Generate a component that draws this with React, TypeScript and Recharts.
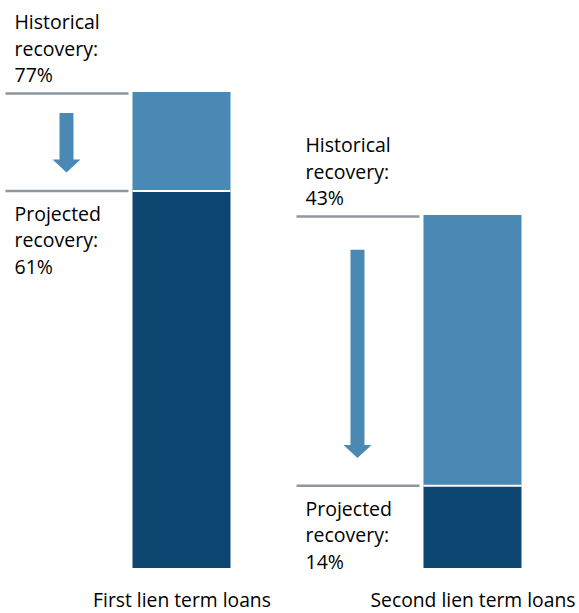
import { BarChart, Bar, XAxis, YAxis } from 'recharts';

// Note: the original bars are schematic, not drawn to one scale,
// so the bar heights below are read off the picture; the labels keep the stated rates.
const categories = ['First lien term loans', 'Second lien term loans'];
const projectedHeight = [61, 13.3];
const declineHeight = [16, 43.8];
const historicalLabel = ['77%', '43%'];
const projectedLabel = ['61%', '14%'];

const LIGHT = '#4a89b4';
const DARK = '#0d4670';
const GREY = '#8e979e';
const FONT = '"Open Sans", sans-serif';

const data = categories.map((name, i) => ({
  pos: i,
  name,
  projected: projectedHeight[i],
  decline: declineHeight[i],
  hist: historicalLabel[i],
  proj: projectedLabel[i],
}));

const TextBlock = ({ x, y, lines }: { x: number; y: number; lines: string[] }) => (
  <text x={x} y={y} fontSize={19.5} fill="#000" fontFamily={FONT}>
    {lines.map((l, i) => (
      <tspan key={i} x={x} dy={i === 0 ? 0 : 26.5}>
        {l}
      </tspan>
    ))}
  </text>
);

const DeclineShape = (props: any) => {
  const { x, y, width, height, payload } = props;
  const bottom = y + height;
  const lineX1 = x - 127;
  const lineX2 = x - 4;
  const cx = x - 66;
  const top = y + 0.08 * height + 13;
  const tip = bottom - (0.055 * height + 13);
  const headTop = tip - 13;
  return (
    <g>
      <rect x={x} y={y} width={width} height={height} fill={LIGHT} />
      <line x1={x} x2={x + width} y1={bottom} y2={bottom} stroke="#fff" strokeWidth={2} />
      <line x1={lineX1} x2={lineX2} y1={y + 1.5} y2={y + 1.5} stroke={GREY} strokeWidth={2.5} />
      <line x1={lineX1} x2={lineX2} y1={bottom} y2={bottom} stroke={GREY} strokeWidth={2.5} />
      <path
        d={`M${cx - 7},${top} L${cx + 7},${top} L${cx + 7},${headTop} L${cx + 14},${headTop} L${cx},${tip} L${cx - 14},${headTop} L${cx - 7},${headTop} Z`}
        fill={LIGHT}
      />
      <TextBlock x={x - 118} y={y - 63} lines={['Historical', 'recovery:', payload.hist]} />
      <TextBlock x={x - 118} y={bottom + 30} lines={['Projected', 'recovery:', payload.proj]} />
    </g>
  );
};

const AxisTick = (props: any) => {
  const { x, y, payload } = props;
  return (
    <text x={x} y={y + 31} textAnchor="middle" fontSize={19.3} fill="#000" fontFamily={FONT}>
      {categories[payload.value]}
    </text>
  );
};

export default function App() {
  return (
    <div style={{ position: 'absolute', left: 0, top: 0, background: '#fff' }}>
      <BarChart
        width={579}
        height={613}
        data={data}
        margin={{ top: 92, right: 0, bottom: 5, left: 0 }}
      >
        <XAxis
          type="number"
          dataKey="pos"
          domain={[-0.6254, 1.3643]}
          ticks={[0, 1]}
          axisLine={false}
          tickLine={false}
          height={40}
          tick={<AxisTick />}
        />
        <YAxis hide domain={[0, 77]} width={0} />
        <Bar dataKey="projected" stackId="a" fill={DARK} barSize={98} isAnimationActive={false} />
        <Bar
          dataKey="decline"
          stackId="a"
          fill={LIGHT}
          barSize={98}
          shape={<DeclineShape />}
          isAnimationActive={false}
        />
      </BarChart>
    </div>
  );
}
